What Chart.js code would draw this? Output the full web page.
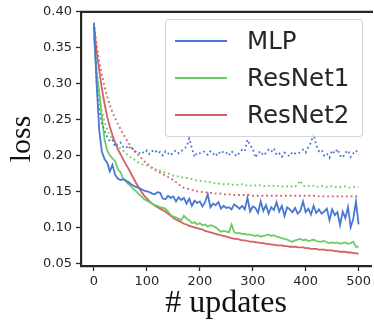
<!DOCTYPE html>
<html>
<head>
<meta charset="utf-8">
<script src="https://cdn.jsdelivr.net/npm/chart.js@4"></script>
<style>
  body { margin: 0; background: #fff; overflow: hidden; }
  #wrap { position: relative; width: 374px; height: 327px; }
  #legend {
    position: absolute; left: 165px; top: 19px; width: 196px; height: 116px;
    background: rgba(255,255,255,0.8); border: 1px solid rgba(204,204,204,0.8);
    border-radius: 4px; font-family: "DejaVu Sans", sans-serif; font-size: 24.5px; color: #262626;
  }
  .item { position: absolute; left: 0; height: 37px; width: 196px; }
  .item .swatch { position: absolute; left: 9px; width: 52px; top: 0; height: 0; }
  .item .txt { position: absolute; left: 81px; top: -15px; line-height: 30px; white-space: nowrap; }
</style>
</head>
<body>
<div id="wrap">
  <canvas id="myChart" width="374" height="327"></canvas>
  <div id="legend"></div>
</div>
<script>
const xs = [0,5,10,15,20,25,30,35,40,45,50,55,60,65,70,75,80,85,90,95,
  100,105,110,115,120,125,130,135,140,145,150,155,160,165,170,175,180,185,190,195,
  200,205,210,215,220,225,230,235,240,245,250,255,260,265,270,275,280,285,290,295,
  300,305,310,315,320,325,330,335,340,345,350,355,360,365,370,375,380,385,390,395,
  400,405,410,415,420,425,430,435,440,445,450,455,460,465,470,475,480,485,490,495,500];

// solid lines
const mlp = [0.384,0.300,0.235,0.205,0.195,0.190,0.178,0.187,0.173,0.168,
  0.166,0.167,0.165,0.163,0.160,0.158,0.156,0.155,0.153,0.151,
  0.150,0.149,0.147,0.146,0.149,0.148,0.140,0.139,0.144,0.141,
  0.143,0.136,0.142,0.138,0.141,0.133,0.140,0.130,0.137,0.134,
  0.136,0.129,0.135,0.146,0.128,0.133,0.131,0.135,0.126,0.130,
  0.127,0.128,0.125,0.132,0.129,0.126,0.130,0.125,0.141,0.122,
  0.129,0.127,0.120,0.136,0.123,0.131,0.119,0.128,0.124,0.135,
  0.122,0.130,0.116,0.128,0.125,0.121,0.127,0.119,0.123,0.136,
  0.121,0.126,0.118,0.130,0.120,0.125,0.119,0.122,0.126,0.110,
  0.125,0.117,0.121,0.103,0.122,0.113,0.128,0.100,0.112,0.136,
  0.104];
const resnet1 = [0.367,0.315,0.287,0.252,0.222,0.207,0.200,0.196,0.192,0.181,
  0.177,0.168,0.165,0.160,0.157,0.153,0.150,0.146,0.143,0.139,
  0.137,0.135,0.133,0.131,0.130,0.128,0.127,0.126,0.122,0.117,
  0.115,0.114,0.112,0.110,0.116,0.112,0.110,0.106,0.107,0.104,
  0.106,0.103,0.104,0.101,0.103,0.102,0.100,0.097,0.094,0.095,
  0.094,0.093,0.104,0.093,0.092,0.092,0.091,0.091,0.090,0.090,
  0.089,0.088,0.089,0.087,0.088,0.089,0.090,0.088,0.089,0.087,
  0.086,0.085,0.084,0.083,0.081,0.080,0.082,0.083,0.084,0.082,
  0.083,0.081,0.082,0.083,0.081,0.080,0.080,0.081,0.079,0.078,
  0.079,0.078,0.079,0.077,0.078,0.079,0.077,0.078,0.080,0.073,
  0.073];
const resnet2 = [0.380,0.345,0.318,0.293,0.272,0.254,0.240,0.228,0.218,0.209,
  0.202,0.195,0.188,0.182,0.175,0.168,0.161,0.155,0.149,0.144,
  0.140,0.136,0.133,0.130,0.128,0.126,0.124,0.122,0.119,0.116,
  0.113,0.111,0.109,0.107,0.105,0.104,0.102,0.101,0.100,0.099,
  0.098,0.097,0.095,0.094,0.093,0.092,0.091,0.090,0.089,0.088,
  0.087,0.086,0.085,0.084,0.084,0.083,0.082,0.082,0.081,0.080,
  0.080,0.079,0.079,0.078,0.078,0.077,0.077,0.076,0.076,0.075,
  0.075,0.075,0.074,0.074,0.073,0.073,0.073,0.072,0.072,0.072,
  0.071,0.071,0.070,0.070,0.070,0.069,0.069,0.069,0.068,0.068,
  0.068,0.067,0.067,0.066,0.066,0.066,0.065,0.065,0.064,0.064,
  0.063];

// dotted lines
const mlpDot = [0.383,0.300,0.262,0.245,0.234,0.226,0.220,0.222,0.212,0.216,
  0.218,0.212,0.210,0.214,0.208,0.210,0.204,0.203,0.206,0.203,
  0.207,0.202,0.206,0.208,0.203,0.205,0.200,0.206,0.203,0.200,
  0.205,0.207,0.203,0.206,0.210,0.212,0.224,0.210,0.198,0.204,
  0.203,0.206,0.205,0.201,0.206,0.203,0.199,0.205,0.202,0.206,
  0.204,0.200,0.206,0.202,0.199,0.204,0.208,0.206,0.222,0.214,
  0.210,0.197,0.203,0.206,0.200,0.204,0.208,0.205,0.210,0.201,
  0.203,0.198,0.204,0.201,0.199,0.205,0.203,0.202,0.205,0.208,
  0.204,0.212,0.218,0.230,0.214,0.206,0.208,0.200,0.203,0.197,
  0.207,0.203,0.209,0.200,0.197,0.204,0.207,0.198,0.203,0.207,
  0.201];
const resnet1Dot = [0.368,0.320,0.285,0.262,0.247,0.236,0.228,0.222,0.218,0.214,
  0.210,0.207,0.203,0.200,0.197,0.195,0.192,0.190,0.188,0.187,
  0.186,0.184,0.182,0.181,0.180,0.179,0.178,0.176,0.175,0.173,
  0.172,0.171,0.171,0.170,0.169,0.169,0.168,0.167,0.166,0.165,
  0.165,0.164,0.164,0.163,0.163,0.162,0.161,0.161,0.160,0.160,
  0.161,0.160,0.159,0.160,0.159,0.159,0.160,0.158,0.159,0.158,
  0.159,0.158,0.159,0.158,0.157,0.158,0.158,0.157,0.158,0.157,
  0.158,0.157,0.156,0.157,0.158,0.156,0.157,0.159,0.165,0.158,
  0.157,0.158,0.157,0.158,0.156,0.157,0.158,0.157,0.156,0.157,
  0.157,0.156,0.157,0.156,0.157,0.157,0.156,0.155,0.156,0.156,
  0.156];
const resnet2Dot = [0.385,0.355,0.330,0.312,0.296,0.282,0.270,0.260,0.252,0.244,
  0.237,0.230,0.224,0.218,0.212,0.207,0.203,0.200,0.196,0.192,
  0.189,0.186,0.183,0.180,0.178,0.176,0.174,0.172,0.170,0.168,
  0.166,0.163,0.160,0.157,0.155,0.154,0.153,0.152,0.151,0.150,
  0.150,0.149,0.149,0.148,0.148,0.148,0.147,0.147,0.147,0.146,
  0.146,0.146,0.146,0.145,0.145,0.145,0.145,0.145,0.145,0.145,
  0.144,0.144,0.144,0.144,0.144,0.144,0.144,0.144,0.144,0.144,
  0.144,0.144,0.144,0.144,0.144,0.144,0.144,0.144,0.144,0.144,
  0.144,0.144,0.144,0.144,0.144,0.143,0.143,0.143,0.143,0.143,
  0.143,0.143,0.143,0.143,0.143,0.143,0.143,0.143,0.143,0.143,
  0.143];

const names = ['MLP', 'ResNet1', 'ResNet2'];
const colors = ['#4878CF', '#6ACC65', '#D65F5F'];
const xTicks = [0, 100, 200, 300, 400, 500];
const yTicks = [0.05, 0.10, 0.15, 0.20, 0.25, 0.30, 0.35, 0.40];

const solid = [mlp, resnet1, resnet2];
const dotted = [mlpDot, resnet1Dot, resnet2Dot];
const pts = arr => arr.map((v, i) => ({x: xs[i], y: v}));

let datasets = [];
for (let i = 0; i < 3; i++) {
  datasets.push({label: names[i], data: pts(solid[i]), borderColor: colors[i], borderWidth: 1.8, pointRadius: 0, tension: 0});
  datasets.push({label: names[i] + ' (dotted)', data: pts(dotted[i]), borderColor: colors[i], borderWidth: 1.8,
    borderDash: [1.8, 2.9], pointRadius: 0, tension: 0});
}

const ink = '#262626';
const tickFont = {family: 'DejaVu Sans', size: 13};

const topSpine = {
  id: 'topSpine',
  afterDraw(chart) {
    const {ctx, chartArea} = chart;
    ctx.save();
    ctx.strokeStyle = ink;
    ctx.lineWidth = 2.2;
    ctx.beginPath();
    ctx.moveTo(chartArea.left - 1, chartArea.top);
    ctx.lineTo(chartArea.right + 2, chartArea.top);
    ctx.stroke();
    ctx.restore();
  }
};

new Chart(document.getElementById('myChart'), {
  type: 'line',
  data: {datasets: datasets},
  plugins: [topSpine],
  options: {
    responsive: false,
    animation: false,
    layout: {padding: {top: 7, right: 0, left: 0, bottom: 0}},
    plugins: {legend: {display: false}, tooltip: {enabled: false}},
    scales: {
      x: {
        type: 'linear', min: -24.5, max: 523.5,
        afterBuildTicks: s => { s.ticks = xTicks.map(v => ({value: v})); },
        afterFit: s => { s.height = 61; },
        grid: {drawOnChartArea: false, drawTicks: true, tickLength: 5, tickWidth: 1.3, tickColor: ink},
        border: {display: true, color: ink, width: 2.2},
        ticks: {font: tickFont, color: ink, padding: 3, maxRotation: 0},
        title: {display: true, text: '# updates', color: '#111',
          font: {family: 'Liberation Serif', size: 32}, padding: {top: 0, bottom: 4}}
      },
      y: {
        min: 0.0462, max: 0.40,
        afterBuildTicks: s => { s.ticks = yTicks.map(v => ({value: v})); },
        afterFit: s => { s.width = 81; },
        grid: {drawOnChartArea: false, drawTicks: true, tickLength: 5, tickWidth: 1.3, tickColor: ink},
        border: {display: true, color: ink, width: 2.2},
        ticks: {font: tickFont, color: ink, padding: 4, callback: v => v.toFixed(2)},
        title: {display: true, text: 'loss', color: '#111',
          font: {family: 'Liberation Serif', size: 30}, padding: {top: 4, bottom: 0}}
      }
    }
  }
});

// legend: solid lines only
const leg = document.getElementById('legend');
const rowY = [21, 58, 95];
names.forEach((n, i) => {
  const it = document.createElement('div');
  it.className = 'item';
  it.style.top = rowY[i] + 'px';
  it.innerHTML = '<div class="swatch" style="border-top:2px solid ' + colors[i] + ';margin-top:-1px"></div>' +
    '<div class="txt">' + n + '</div>';
  leg.appendChild(it);
});
</script>
</body>
</html>
